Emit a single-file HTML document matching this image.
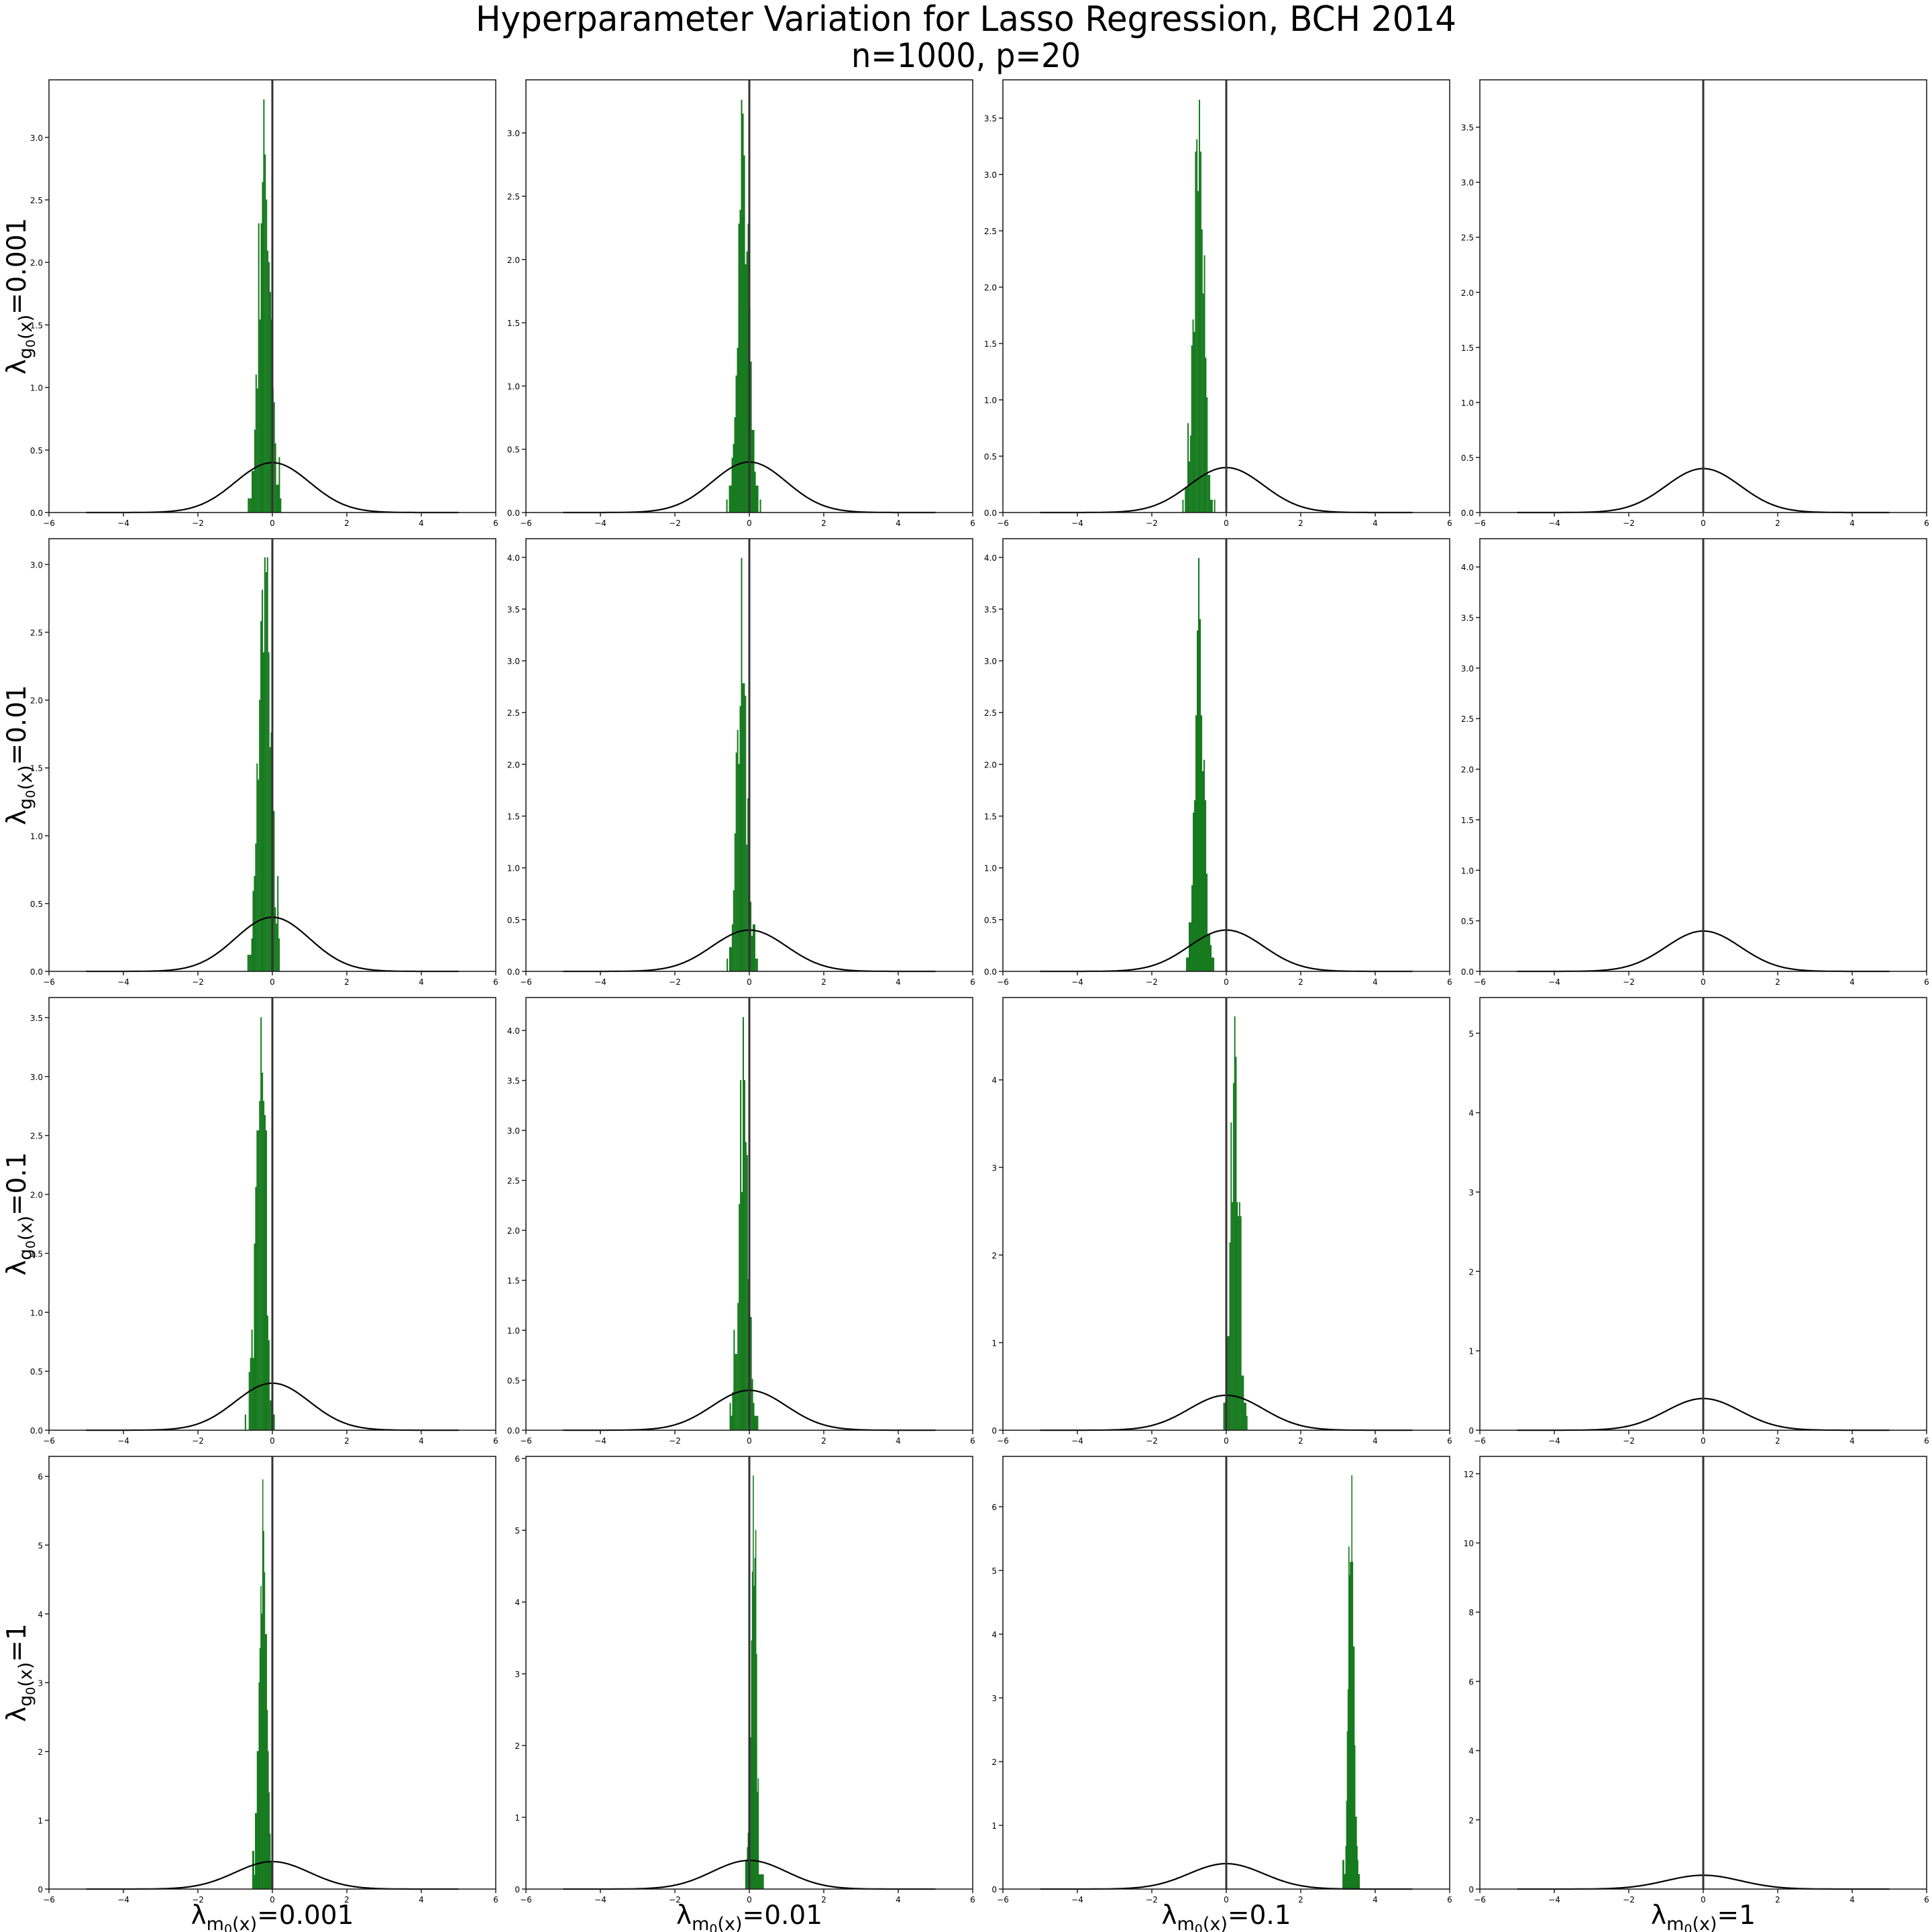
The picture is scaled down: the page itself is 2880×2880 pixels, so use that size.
<!DOCTYPE html>
<html>
<head>
<meta charset="utf-8">
<style>
html,body{margin:0;padding:0;background:#fff;}
svg{display:block;}
text{font-family:"DejaVu Sans","Liberation Sans",sans-serif;fill:#000;}
</style>
</head>
<body>
<svg id="chart" width="2880" height="2880" viewBox="0 0 2880 2880" xmlns="http://www.w3.org/2000/svg">
<rect x="0" y="0" width="2880" height="2880" fill="#fff"/>
<text x="1440" y="46" font-size="52" text-anchor="middle" textLength="1462" lengthAdjust="spacingAndGlyphs">Hyperparameter Variation for Lasso Regression, BCH 2014</text>
<text x="1440" y="100" font-size="50" text-anchor="middle" textLength="342" lengthAdjust="spacingAndGlyphs">n=1000, p=20</text>
<g id="panels"></g>
</svg>
<script>
// ---- data ----
const rowLabels = ["0.001", "0.01", "0.1", "1"];
const colLabels = ["0.001", "0.01", "0.1", "1"];
const xTicks = [-6, -4, -2, 0, 2, 4, 6];
const yMaxRow1 = [3.46, 3.42, 3.84, 3.93];
const yMaxRow2 = [3.19, 4.18, 4.18, 4.28];
const yMaxRow3 = [3.67, 4.33, 4.94, 5.45];
const yMaxRow4 = [6.29, 6.03, 6.79, 12.5];
const yStepRow1 = [0.5, 0.5, 0.5, 0.5];
const yStepRow2 = [0.5, 0.5, 0.5, 0.5];
const yStepRow3 = [0.5, 0.5, 1, 1];
const yStepRow4 = [1, 1, 1, 2];
const binStartRow1 = [-0.66, -0.62, -1.18, 0];
const binStartRow2 = [-0.67, -0.61, -1.08, 0];
const binStartRow3 = [-0.74, -0.53, -0.08, 0];
const binStartRow4 = [-0.54, -0.11, 3.12, 0];
const binWidthRow1 = [0.0346, 0.036, 0.034, 0.03];
const binWidthRow2 = [0.0348, 0.035, 0.036, 0.03];
const binWidthRow3 = [0.035, 0.035, 0.0325, 0.03];
const binWidthRow4 = [0.0245, 0.0225, 0.02, 0.03];
const hist_r1c1 = [0.11,0.11,0.11,0.33,0.33,0.66,1.1,0.99,2.31,1.54,2.31,2.64,3.3,2.86,2.5,2.09,2.0,1.76,1.54,0.99,0.88,0.55,0.22,0.22,0.44,0.11];
const hist_r1c2 = [0.10,0,0.21,0.21,0.43,0.54,0.75,1.08,1.30,2.28,2.39,3.26,3.15,2.82,1.96,2.06,2.28,1.62,1.19,0.65,0.65,0.32,0.21,0.21,0,0.10];
const hist_r1c3 = [0.11,0,0.22,0.22,0.79,0.45,0.68,1.48,1.71,1.60,3.20,3.31,2.85,3.66,3.20,2.51,1.94,2.28,1.37,1.02,0.33,0.33,0.11,0.11,0,0.11];
const hist_r1c4 = [];
const hist_r2c1 = [0.12,0.12,0.12,0.24,0.59,0.70,0.94,1.53,1.41,2.0,2.58,2.81,2.35,3.05,2.94,3.05,2.35,1.65,1.76,1.18,1.18,0.47,0.35,0.70,0.24];
const hist_r2c2 = [0.12,0,0.23,0.23,0.45,0.78,1.33,2.11,2.33,2.0,2.56,3.99,2.78,2.78,2.66,1.22,1.67,0.78,0.67,0.34,0.45,0.45,0.12,0.12];
const hist_r2c3 = [0.13,0.13,0.47,0.47,0.83,1.53,1.65,2.47,3.29,3.99,3.40,2.47,1.93,2.04,1.65,0.94,0.36,0.36,0.25,0.13,0.13];
const hist_r2c4 = [];
const hist_r3c1 = [0.13,0,0,0.49,0.61,0.85,0.61,1.58,2.06,2.54,2.54,2.79,3.50,3.03,2.79,2.67,2.54,0.97,0.76,0.25,0.25,0.13,0.13];
const hist_r3c2 = [0.27,0.14,0.38,1.0,0.76,0.76,1.27,2.26,3.5,2.38,4.13,3.5,2.88,2.75,1.51,1.13,1.13,0.51,0.27,0.14,0.14,0.14];
const hist_r3c3 = [0.31,0.31,0.77,1.07,1.07,2.14,3.51,2.6,3.96,4.72,4.26,2.6,2.44,2.6,2.44,0.62,0.62,0.31,0.31,0.16];
const hist_r3c4 = [];
const hist_r4c1 = [0.55,0.55,0.2,1.1,1.1,2.0,2.0,3.0,3.5,4.4,4.0,5.95,5.2,4.6,3.7,3.7,2.6,2.0,1.4,0.8,0.4,0.2];
const hist_r4c2 = [0.4,0.4,0.58,0.78,1.54,1.94,2.11,3.46,4.42,5.76,4.22,4.61,5.0,3.27,1.35,1.54,0.2,0.2,0.2,0.2,0.2,0.2];
const hist_r4c3 = [0.45,0.45,0.23,0.23,0.67,1.38,2.47,3.13,5.37,4.92,5.13,5.13,6.49,5.13,3.8,3.8,2.25,1.13,1.13,0.67,0.45,0.23,0.23];
const hist_r4c4 = [];

const yMaxes = [yMaxRow1, yMaxRow2, yMaxRow3, yMaxRow4];
const ySteps = [yStepRow1, yStepRow2, yStepRow3, yStepRow4];
const binStarts = [binStartRow1, binStartRow2, binStartRow3, binStartRow4];
const binWidths = [binWidthRow1, binWidthRow2, binWidthRow3, binWidthRow4];
const hists = [[hist_r1c1,hist_r1c2,hist_r1c3,hist_r1c4],[hist_r2c1,hist_r2c2,hist_r2c3,hist_r2c4],[hist_r3c1,hist_r3c2,hist_r3c3,hist_r3c4],[hist_r4c1,hist_r4c2,hist_r4c3,hist_r4c4]];

// ---- layout ----
const NS = "http://www.w3.org/2000/svg";
const colLeft = [73, 784, 1495, 2206];
const rowTop = [119, 803, 1487, 2171];
const PW = 666, PH = 645;
const root = document.getElementById('panels');

function mk(tag, attrs, parent) {
  const e = document.createElementNS(NS, tag);
  for (const k in attrs) e.setAttribute(k, attrs[k]);
  parent.appendChild(e);
  return e;
}
function fmt(v, step) {
  const s = step < 1 ? v.toFixed(1) : String(Math.round(v));
  return s.replace('-', '\u2212');
}

for (let r = 0; r < 4; r++) {
  for (let c = 0; c < 4; c++) {
    const L = colLeft[c], T = rowTop[r];
    const ymax = yMaxes[r][c];
    const xs = v => L + (v + 6) / 12 * PW;
    const ys = v => T + PH - v / ymax * PH;
    const g = mk('g', {}, root);
    
    

    const hb = mk('g', {}, g);
    
    
    const h = hists[r][c], s0 = binStarts[r][c], bw = binWidths[r][c];
    for (let i = 0; i < h.length; i++) {
      if (h[i] <= 0) continue;
      const x0 = xs(s0 + i * bw), x1 = xs(s0 + (i + 1) * bw);
      const b = mk('rect', {x: x0 + 0.5, y: ys(h[i]), width: Math.max(0.5, x1 - x0 - 1), height: ys(0) - ys(h[i]), fill: '#a2d957', stroke: '#177a1f', 'stroke-width': 1.1}, hb);
      
      
    }

    let d = '';
    for (let i = 0; i <= 400; i++) {
      const x = -5 + i * 10 / 400;
      const y = Math.exp(-x * x / 2) / Math.sqrt(2 * Math.PI);
      d += (i ? 'L' : 'M') + xs(x).toFixed(1) + ',' + ys(y).toFixed(1);
    }
    const curve = mk('path', {d: d, fill: 'none', stroke: '#000', 'stroke-width': 2.2}, g);
    
    

    const vl = mk('line', {x1: xs(0), x2: xs(0), y1: T, y2: T + PH, stroke: '#333', 'stroke-width': 3}, g);
    
    

    const fr = mk('rect', {x: L, y: T, width: PW, height: PH, fill: 'none', stroke: '#222', 'stroke-width': 1.6}, g);
    
    

    const xa = mk('g', {}, g);
    
    
    xTicks.forEach(t => {
      mk('line', {x1: xs(t), x2: xs(t), y1: T + PH, y2: T + PH + 6, stroke: '#222', 'stroke-width': 1.5}, xa);
      const tx = mk('text', {x: xs(t), y: T + PH + 20, 'font-size': 12, 'text-anchor': 'middle'}, xa);
      
      
      tx.textContent = fmt(t, 1);
    });

    const ya = mk('g', {}, g);
    
    
    const st = ySteps[r][c];
    for (let k = 0; k * st <= ymax + 1e-9; k++) {
      const v = k * st;
      mk('line', {x1: L - 6, x2: L, y1: ys(v), y2: ys(v), stroke: '#222', 'stroke-width': 1.5}, ya);
      const tx = mk('text', {x: L - 9, y: ys(v) + 5, 'font-size': 12, 'text-anchor': 'end'}, ya);
      
      
      tx.textContent = fmt(v, st);
    }
  }
}

function lambdaLabel(parent, letter, val, name) {
  const t = mk('text', {'font-size': 39}, parent);
  
  
  const parts = [['\u03bb', 39, 0], [letter, 27, 9], ['0', 19, 5], ['(x)', 27, -5], ['=' + val, 39, -9]];
  parts.forEach(p => {
    const ts = mk('tspan', {'font-size': p[1], dy: p[2]}, t);
    ts.textContent = p[0];
  });
  return t;
}

for (let r = 0; r < 4; r++) {
  const cy = rowTop[r] + PH / 2;
  const g = mk('g', {transform: 'translate(38,' + cy + ') rotate(-90)'}, root);
  
  
  const t = lambdaLabel(g, 'g', rowLabels[r], 'row-label');
  t.setAttribute('text-anchor', 'middle');
  t.setAttribute('x', 0);
  t.setAttribute('y', 0);
}
for (let c = 0; c < 4; c++) {
  const cx = colLeft[c] + PW / 2;
  const t = lambdaLabel(root, 'm', colLabels[c], 'column-label');
  t.setAttribute('text-anchor', 'middle');
  t.setAttribute('x', cx);
  t.setAttribute('y', 2868);
}
</script>
</body>
</html>
